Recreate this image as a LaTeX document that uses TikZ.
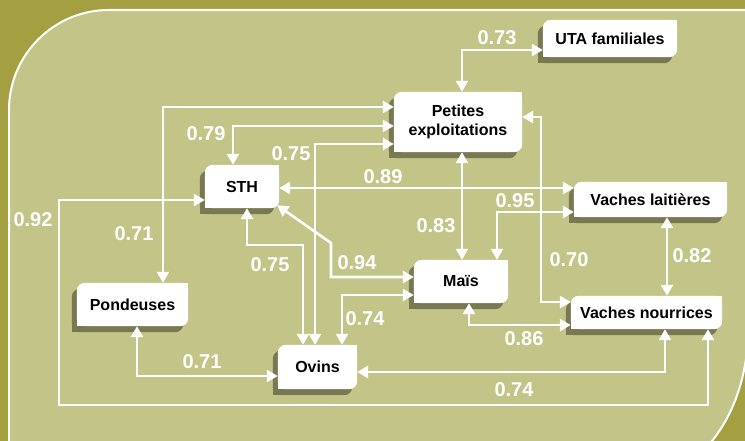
\documentclass[tikz,border=0pt]{standalone}
\usepackage{fontspec}
\setmainfont{Liberation Sans}
\usetikzlibrary{arrows.meta,calc}
\pgfdeclarelayer{bg}
\pgfsetlayers{bg,main}
\definecolor{outerc}{RGB}{164,160,66}
\definecolor{panelc}{RGB}{195,196,136}
\definecolor{shadowc}{RGB}{120,120,82}
\newcommand\boxshape[4]{%
  \fill[#2,rounded corners=8pt] ([xshift=#3,yshift=#4]#1.south west) rectangle ([xshift=#3,yshift=#4]#1.north east);
  \fill[#2] ([xshift=#3,yshift=#4]#1.north) rectangle ([xshift=#3,yshift=#4]#1.east);
  \fill[#2] ([xshift=#3,yshift=#4]#1.west) rectangle ([xshift=#3,yshift=#4]#1.south);}
\begin{document}
\begin{tikzpicture}[x=1pt,y=-1pt,
  nd/.style={font=\fontsize{16}{19}\selectfont\bfseries, text=black, inner sep=0pt, align=center},
  lab/.style={font=\fontsize{20}{24}\selectfont\bfseries, text=white, inner sep=0pt},
  link/.style={draw=white, line width=2.6pt, {Triangle[length=11pt,width=12pt]}-{Triangle[length=11pt,width=12pt]}}]
\useasboundingbox (0,0) rectangle (745,441);
\begin{pgfonlayer}{bg}
\fill[outerc] (0,0) rectangle (745,441);
\filldraw[fill=panelc, draw=white, line width=2pt] (9,490) -- (9,110) .. controls (9,54.8) and (53.8,10) .. (109,10) -- (748,10) -- (748,330) .. controls (748,412.8) and (698.8,480) .. (638,480) -- cycle;
\end{pgfonlayer}
% nodes
\node[nd, minimum width=134pt, minimum height=37pt] (UTA) at (610,38.5) {UTA familiales};
\node[nd, minimum width=128pt, minimum height=60pt] (P) at (458,122) {Petites\\exploitations};
\node[nd, minimum width=74pt, minimum height=43pt] (STH) at (242,186.5) {STH};
\node[nd, minimum width=153pt, minimum height=35pt] (VL) at (650.5,199.5) {Vaches laitières};
\node[nd, minimum width=94pt, minimum height=43pt] (M) at (461,281.5) {Maïs};
\node[nd, minimum width=151pt, minimum height=33pt] (VN) at (646.5,312.5) {Vaches nourrices};
\node[nd, minimum width=111pt, minimum height=43pt] (Pond) at (132.5,304.5) {Pondeuses};
\node[nd, minimum width=79pt, minimum height=44pt] (O) at (317.5,367) {Ovins};
\begin{pgfonlayer}{bg}
\foreach \n in {UTA,P,STH,VL,M,VN,Pond,O} {\boxshape{\n}{shadowc}{-5pt}{-6pt}}
\foreach \n in {UTA,P,STH,VL,M,VN,Pond,O} {\boxshape{\n}{white}{0pt}{0pt}}
\end{pgfonlayer}
% connectors
\draw[link] (P.north -| 462,0) |- (UTA.west |- 0,50);
\draw[link] (P.west |- 0,107) -| (Pond.north -| 163,0);
\draw[link] (P.west |- 0,126) -| (STH.north -| 233,0);
\draw[link] (P.west |- 0,144) -| (O.north -| 315,0);
\draw[link] (STH.south -| 247,0) -- (247,245) -- (303,245) -- (O.north -| 303,0);
\draw[link] ($(STH.south east)+(-2,-3)$) -- (331,243) -- (331,277) -- (M.west |- 0,277);
\draw[link] (STH.east |- 0,188) -- (VL.west |- 0,188);
\draw[link] (P.south -| 462,0) -- (M.north -| 462,0);
\draw[link] (M.north -| 497,0) |- (VL.west |- 0,212);
\draw[link] (P.east |- 0,117) -- (541,117) -- (541,302) -- (VN.west |- 0,302);
\draw[link] (M.south -| 469,0) |- (VN.west |- 0,325);
\draw[link] (VL.south -| 667,0) -- (VN.north -| 667,0);
\draw[link] (M.west |- 0,295) -| (O.north -| 342,0);
\draw[link] (Pond.south -| 137,0) |- (O.west |- 0,376);
\draw[link] (O.east |- 0,372) -| (VN.south -| 665,0);
\draw[link] (STH.west |- 0,200) -- (59,200) -- (59,405) -- (708,405) -- (VN.south -| 708,0);
% labels
\node[lab] (l1) at (497,38) {0.73};
\node[lab] (l2) at (134,234) {0.71};
\node[lab] (l3) at (206,134) {0.79};
\node[lab] (l4) at (291,154) {0.75};
\node[lab] (l5) at (270,265) {0.75};
\node[lab] (l6) at (357,263) {0.94};
\node[lab] (l7) at (383,177) {0.89};
\node[lab] (l8) at (436,226) {0.83};
\node[lab] (l9) at (515,201) {0.95};
\node[lab] (l10) at (569,260) {0.70};
\node[lab] (l11) at (524,339) {0.86};
\node[lab] (l12) at (692,256) {0.82};
\node[lab] (l13) at (365,319) {0.74};
\node[lab] (l14) at (202,362) {0.71};
\node[lab] (l15) at (514,390) {0.74};
\node[lab] (l16) at (33,220) {0.92};
\end{tikzpicture}
\end{document}
